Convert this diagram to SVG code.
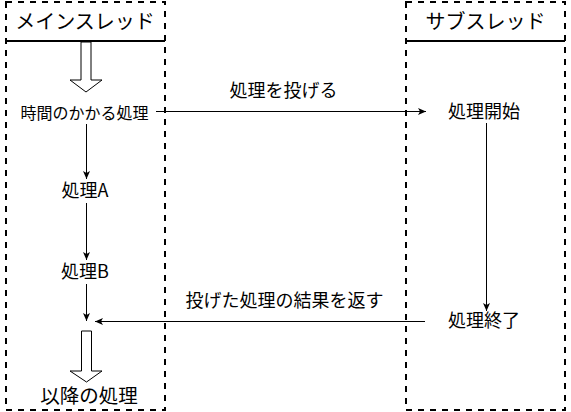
<svg xmlns="http://www.w3.org/2000/svg" width="571" height="412" viewBox="0 0 571 412">
<style>
text{font-family:"Noto Sans CJK JP","Noto Sans",sans-serif;fill:#000;text-anchor:middle}
.lane{fill:none;stroke:#000;stroke-width:2;stroke-dasharray:6 6}
.hdr{stroke:#000;stroke-width:2}
.t20{font-size:20px}
.t18{font-size:18px}
.t16{font-size:16px}
.edge{fill:none;stroke:#000;stroke-width:1}
.hollow{fill:#fff;stroke:#000;stroke-width:1}
</style>
<defs>
<marker id="ah" markerWidth="10" markerHeight="10" refX="9" refY="5" orient="auto" markerUnits="userSpaceOnUse">
<path d="M1,1.5 L9,5 L1,8.5 L3,5 z" fill="#000"/>
</marker>
</defs>
<g id="main-lane">
<rect class="lane" x="6" y="2" width="159" height="408"/>
<line class="hdr" x1="6" y1="41" x2="165" y2="41"/>
<text class="t20" x="85" y="29">メインスレッド</text>
</g>
<g id="sub-lane">
<rect class="lane" x="406" y="2" width="159" height="408"/>
<line class="hdr" x1="406" y1="41" x2="565" y2="41"/>
<text class="t20" x="485.5" y="29">サブスレッド</text>
</g>
<g id="hollow-top">
<path class="hollow" d="M81,42 L91,42 L91,80 L102,80 L86,92 L70,80 L81,80 z"/>
</g>
<g id="hollow-bottom">
<path class="hollow" d="M81.5,331 L91.5,331 L91.5,371 L102,371 L86.5,382 L70,371 L81.5,371 z"/>
</g>
<g id="n-heavy"><text class="t16" x="84.5" y="119">時間のかかる処理</text></g>
<g id="n-a"><text class="t18" x="85" y="197">処理A</text></g>
<g id="n-b"><text class="t18" x="85" y="277.5">処理B</text></g>
<g id="n-after"><text class="t18" x="89" y="402.5" style="font-size:19.5px">以降の処理</text></g>
<g id="n-start"><text class="t18" x="484" y="117.5">処理開始</text></g>
<g id="n-end"><text class="t18" x="484" y="327">処理終了</text></g>
<g id="connectors">
<line class="edge" x1="156" y1="111.5" x2="426" y2="111.5" marker-end="url(#ah)"/>
<text class="t18" x="283.5" y="97">処理を投げる</text>
<line class="edge" x1="86.5" y1="124" x2="86.5" y2="179" marker-end="url(#ah)"/>
<line class="edge" x1="86.5" y1="203" x2="86.5" y2="260" marker-end="url(#ah)"/>
<line class="edge" x1="86.5" y1="284" x2="86.5" y2="321" marker-end="url(#ah)"/>
<line class="edge" x1="486.5" y1="123" x2="486.5" y2="311" marker-end="url(#ah)"/>
<line class="edge" x1="425" y1="321.5" x2="95" y2="321.5" marker-end="url(#ah)"/>
<text class="t18" x="284.5" y="306.5">投げた処理の結果を返す</text>
</g>
</svg>
